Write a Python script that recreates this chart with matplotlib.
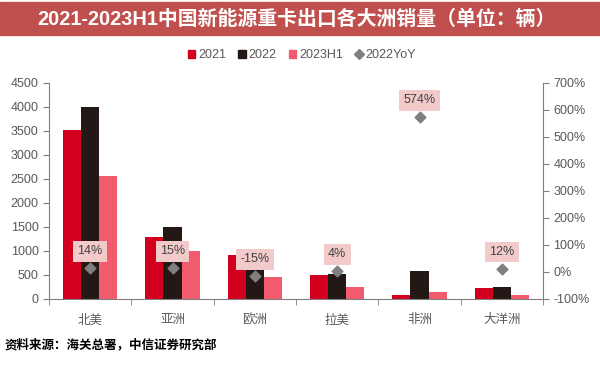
import numpy as np
import matplotlib.pyplot as plt
from matplotlib.patches import Rectangle
from matplotlib.lines import Line2D

plt.rcParams['font.family'] = ['Liberation Sans', 'Noto Sans CJK SC']

# data
regions = ['北美', '亚洲', '欧洲', '拉美', '非洲', '大洋洲']
sales_2021 = [3510, 1300, 920, 500, 86, 223]
sales_2022 = [4000, 1490, 780, 520, 580, 250]
sales_2023h1 = [2570, 1000, 465, 240, 140, 90]
yoy_2022 = [14, 15, -15, 4, 574, 12]
yoy_labels = ['14%', '15%', '-15%', '4%', '574%', '12%']

c21, c22, c23 = '#D2001E', '#231815', '#F25A6E'
grey = '#595959'

fig = plt.figure(figsize=(6, 3.65), dpi=100)
ax = fig.add_axes([0.0817, 0.181, 0.8233, 0.592])

x = np.arange(len(regions))
w = 0.22
ax.bar(x - w, sales_2021, w, color=c21, label='2021')
ax.bar(x, sales_2022, w, color=c22, label='2022')
ax.bar(x + w, sales_2023h1, w, color=c23, label='2023H1')
ax.set_xlim(-0.5, len(regions) - 0.5)
ax.set_ylim(0, 4500)
ax.set_yticks(np.arange(0, 4501, 500))
ax.set_xticks(x)
ax.set_xticklabels(regions)
ax.set_xticks(np.arange(-0.5, len(regions), 1), minor=True)
ax.tick_params(axis='x', which='major', length=0, pad=11, labelsize=9, labelcolor=grey)
ax.tick_params(axis='x', which='minor', length=4, color='#808080', direction='out')
ax.tick_params(axis='y', length=4, color='#808080', labelsize=9, labelcolor=grey)
for s in ['top', 'right']:
    ax.spines[s].set_visible(False)
for s in ['left', 'bottom']:
    ax.spines[s].set_color('#808080')

ax2 = ax.twinx()
ax2.scatter(x, yoy_2022, marker='D', s=30, color='#7F7F7F', zorder=5, label='2022YoY')
ax2.set_ylim(-100, 700)
ax2.set_yticks(np.arange(-100, 701, 100))
ax2.set_yticklabels([f'{v}%' for v in range(-100, 701, 100)])
ax2.tick_params(axis='y', length=4, color='#808080', labelsize=9, labelcolor=grey)
for s in ['top', 'left', 'bottom']:
    ax2.spines[s].set_visible(False)
ax2.spines['right'].set_color('#808080')
for xi, yi, lab in zip(x, yoy_2022, yoy_labels):
    ax2.annotate(lab, (xi, yi), xytext=(0, 12), textcoords='offset points',
                 ha='center', va='center', fontsize=9, color='#404040', zorder=6,
                 bbox=dict(boxstyle='square,pad=0.35', fc='#F2CACA', ec='none'))

# legend
handles = [Rectangle((0, 0), 1, 1, color=c21), Rectangle((0, 0), 1, 1, color=c22),
           Rectangle((0, 0), 1, 1, color=c23),
           Line2D([], [], marker='D', ls='none', color='#7F7F7F', markersize=5)]
fig.legend(handles, ['2021', '2022', '2023H1', '2022YoY'], loc='center',
           bbox_to_anchor=(0.503, 0.849), ncol=4, frameon=False, fontsize=9,
           handlelength=0.6, handleheight=0.6, handletextpad=0.2, columnspacing=1.0,
           labelcolor=grey)

# title banner
fig.patches.append(Rectangle((0, 1 - 35 / 365), 1, 33 / 365, transform=fig.transFigure,
                             color='#C0504D', zorder=0))
fig.text(0.494, 1 - 19 / 365, '2021-2023H1中国新能源重卡出口各大洲销量（单位：辆）',
         ha='center', va='center', color='white', fontsize=14.3, fontweight='bold')

fig.text(0.008, 1 - 345 / 365, '资料来源：海关总署，中信证券研究部', ha='left', va='center',
         fontsize=9, fontweight='bold', color='black')

fig.savefig('out.png', dpi=100)
